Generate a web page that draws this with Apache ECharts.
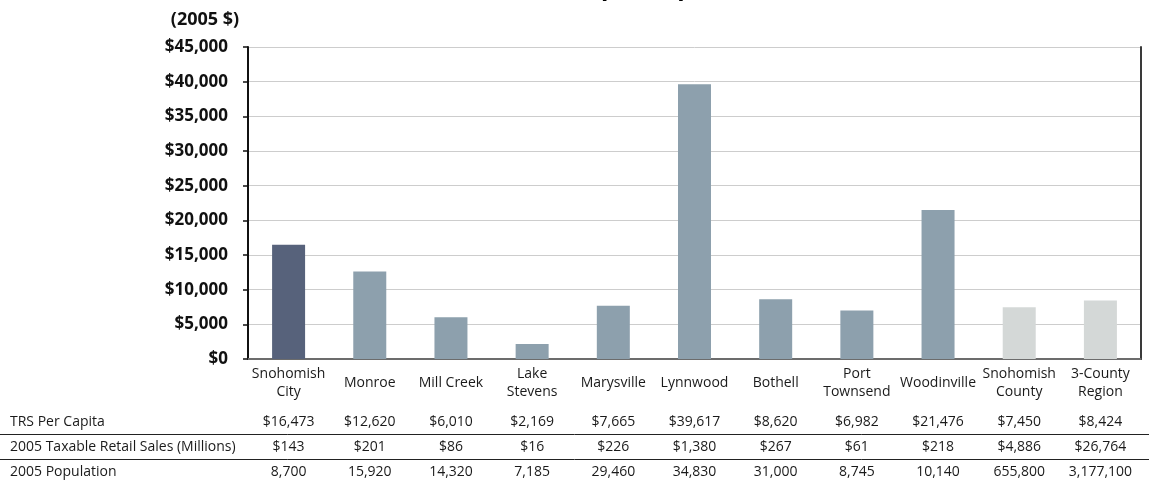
<!DOCTYPE html>
<html>
<head>
<meta charset="utf-8">
<script src="https://cdn.jsdelivr.net/npm/echarts@6/dist/echarts.min.js"></script>
<style>
  html, body { margin: 0; padding: 0; background: #fff; }
  #chart { width: 1149px; height: 485px; }
</style>
</head>
<body>
<div id="chart"></div>
<script>
// Places compared
const categories = [
  'Snohomish\nCity', 'Monroe', 'Mill Creek', 'Lake\nStevens', 'Marysville',
  'Lynnwood', 'Bothell', 'Port\nTownsend', 'Woodinville',
  'Snohomish\nCounty', '3-County\nRegion'
];
// Taxable retail sales per capita (2005 $)
const trsPerCapita = [16473, 12620, 6010, 2169, 7665, 39617, 8620, 6982, 21476, 7450, 8424];
// 2005 taxable retail sales, $ millions
const taxableSales = [143, 201, 86, 16, 226, 1380, 267, 61, 218, 4886, 26764];
// 2005 population
const population = [8700, 15920, 14320, 7185, 29460, 34830, 31000, 8745, 10140, 655800, 3177100];
// Row captions of the table under the chart
const rowLabels = ['TRS Per Capita', '2005 Taxable Retail Sales (Millions)', '2005 Population'];
// Value axis ticks
const yMin = 0, yMax = 45000, yStep = 5000;

const focusPlace = 'Snohomish\nCity';
const regionPlaces = ['Snohomish\nCounty', '3-County\nRegion'];

const fmt = v => v.toLocaleString('en-US');
const money = v => '$' + fmt(v);

const GRID = { left: 248, right: 8, top: 47, bottom: 126 };
const PLOT_BOTTOM = 485 - GRID.bottom;
const rowY = [422, 447, 472];
const lineY = [434, 459];
const txtFont = '"Open Sans", "Noto Sans", sans-serif';

function tableAxis(values, y) {
  return {
    type: 'category',
    data: values,
    position: 'bottom',
    offset: y - PLOT_BOTTOM,
    gridIndex: 0,
    axisLine: { show: false },
    axisTick: { show: false },
    splitLine: { show: false },
    axisLabel: {
      interval: 0, margin: 0, verticalAlign: 'middle',
      fontFamily: txtFont, fontSize: 14, color: '#1a1a1a'
    }
  };
}

const chart = echarts.init(document.getElementById('chart'), null, { renderer: 'canvas' });

chart.setOption({
  animation: false,
  backgroundColor: '#ffffff',
  grid: GRID,
  xAxis: [
    {
      type: 'category',
      data: categories,
      axisLine: { show: true, lineStyle: { color: '#111', width: 2 } },
      axisTick: { show: false },
      axisLabel: {
        interval: 0, margin: 24, verticalAlign: 'middle', lineHeight: 18,
        fontFamily: txtFont, fontSize: 14, color: '#1a1a1a'
      }
    },
    {
      type: 'category',
      data: categories,
      position: 'top',
      axisLine: { show: true, lineStyle: { color: '#8a8a8a', width: 1.5 } },
      axisTick: { show: false },
      axisLabel: { show: false }
    },
    tableAxis(trsPerCapita.map(money), rowY[0]),
    tableAxis(taxableSales.map(money), rowY[1]),
    tableAxis(population.map(fmt), rowY[2])
  ],
  yAxis: [
    {
      type: 'value',
      min: yMin, max: yMax, interval: yStep,
      axisLine: { show: true, lineStyle: { color: '#111', width: 2 } },
      axisTick: { show: true, inside: false, length: 5, lineStyle: { color: '#111', width: 1.5 } },
      axisLabel: {
        margin: 20, formatter: v => money(v),
        fontFamily: txtFont, fontWeight: 'bold', fontSize: 17, color: '#111'
      },
      splitLine: { show: true, lineStyle: { color: '#cdcdcd', width: 1 } }
    },
    {
      type: 'value',
      position: 'right',
      min: yMin, max: yMax, interval: yStep,
      axisLine: { show: true, lineStyle: { color: '#3a3a3a', width: 2 } },
      axisTick: { show: false },
      axisLabel: { show: false },
      splitLine: { show: false }
    }
  ],
  series: [{
    type: 'bar',
    data: trsPerCapita,
    barWidth: 33,
    itemStyle: {
      color: p => p.name === focusPlace ? '#57627b'
        : (regionPlaces.includes(p.name) ? '#d4d8d7' : '#8da0ad')
    }
  }],
  graphic: [
    // Chart title (runs off the top edge)
    {
      type: 'text', silent: true,
      style: {
        x: 601, y: -24, text: 'Taxable Retail Sales ', align: 'right', verticalAlign: 'top',
        font: 'bold 24px ' + txtFont, fill: '#000'
      }
    },
    {
      type: 'text', silent: true,
      style: {
        x: 601, y: -24, text: 'per Capita', align: 'left', verticalAlign: 'top',
        font: 'bold 24px ' + txtFont, fill: '#000'
      }
    },
    // Units caption above the value axis
    {
      type: 'text', silent: true,
      style: {
        x: 205, y: 20, text: '(2005 $)', align: 'center', verticalAlign: 'middle',
        font: 'bold 18px ' + txtFont, fill: '#111'
      }
    },
    // Row captions of the table
    ...rowLabels.map((t, i) => ({
      type: 'text', silent: true,
      style: {
        x: 10, y: rowY[i], text: t, align: 'left', verticalAlign: 'middle',
        font: '14px ' + txtFont, fill: '#1a1a1a'
      }
    })),
    // Table rules
    ...lineY.map(y => ({
      type: 'line', silent: true,
      shape: { x1: 0, y1: y + 0.5, x2: 1149, y2: y + 0.5 },
      style: { stroke: '#222', lineWidth: 1 }
    }))
  ]
});
</script>
</body>
</html>
